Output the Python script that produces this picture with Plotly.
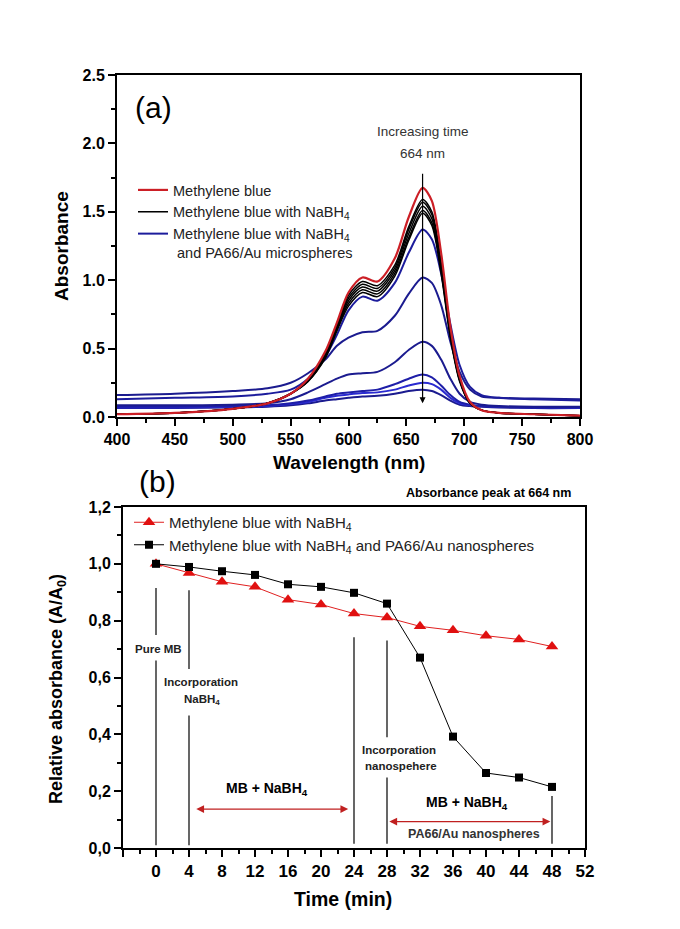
import plotly.graph_objects as go

# ---------------- Panel (a) data: UV-vis spectra ----------------
wavelength = [400, 450, 500, 530, 550, 565, 580, 590, 600, 612, 625, 640, 652, 664,
              672, 680, 688, 696, 705, 715, 730, 760, 800]

mb_pure = [0.02, 0.03, 0.06, 0.10, 0.17, 0.28, 0.48, 0.69, 0.91, 1.02, 0.99, 1.16, 1.46, 1.675,
           1.58, 1.20, 0.66, 0.30, 0.11, 0.05, 0.03, 0.02, 0.01]

mb_nabh4_1 = [0.02, 0.03, 0.06, 0.10, 0.17, 0.27, 0.47, 0.67, 0.89, 0.99, 0.96, 1.11, 1.39, 1.59,
              1.50, 1.13, 0.62, 0.28, 0.10, 0.05, 0.03, 0.02, 0.01]
mb_nabh4_2 = [0.02, 0.03, 0.06, 0.10, 0.17, 0.27, 0.46, 0.66, 0.87, 0.97, 0.94, 1.09, 1.37, 1.57,
              1.48, 1.11, 0.61, 0.28, 0.10, 0.05, 0.03, 0.02, 0.01]
mb_nabh4_3 = [0.02, 0.03, 0.06, 0.10, 0.17, 0.27, 0.45, 0.65, 0.85, 0.95, 0.92, 1.07, 1.34, 1.54,
              1.45, 1.09, 0.60, 0.27, 0.10, 0.05, 0.03, 0.02, 0.01]
mb_nabh4_4 = [0.02, 0.03, 0.06, 0.10, 0.17, 0.26, 0.44, 0.64, 0.83, 0.93, 0.90, 1.05, 1.31, 1.51,
              1.42, 1.07, 0.59, 0.27, 0.10, 0.05, 0.03, 0.02, 0.01]
mb_nabh4_5 = [0.02, 0.03, 0.06, 0.10, 0.17, 0.26, 0.43, 0.63, 0.81, 0.91, 0.88, 1.03, 1.29, 1.49,
              1.40, 1.05, 0.58, 0.26, 0.10, 0.05, 0.03, 0.02, 0.01]

mb_au_1 = [0.13, 0.14, 0.15, 0.17, 0.20, 0.28, 0.44, 0.60, 0.78, 0.88, 0.85, 0.98, 1.20, 1.37,
           1.30, 1.05, 0.68, 0.38, 0.22, 0.16, 0.14, 0.13, 0.12]
mb_au_2 = [0.16, 0.17, 0.19, 0.21, 0.25, 0.32, 0.42, 0.52, 0.58, 0.62, 0.63, 0.74, 0.90, 1.02,
           0.98, 0.82, 0.55, 0.33, 0.20, 0.15, 0.14, 0.135, 0.13]
mb_au_3 = [0.085, 0.085, 0.09, 0.10, 0.13, 0.18, 0.24, 0.28, 0.31, 0.32, 0.33, 0.40, 0.49, 0.55,
           0.52, 0.42, 0.28, 0.17, 0.11, 0.09, 0.08, 0.075, 0.075]
mb_au_4 = [0.075, 0.075, 0.08, 0.085, 0.10, 0.12, 0.15, 0.17, 0.18, 0.19, 0.20, 0.24, 0.28, 0.31,
           0.29, 0.23, 0.16, 0.11, 0.09, 0.08, 0.075, 0.07, 0.07]
mb_au_5 = [0.07, 0.07, 0.075, 0.08, 0.095, 0.11, 0.14, 0.155, 0.165, 0.175, 0.18, 0.20, 0.23, 0.25,
           0.24, 0.20, 0.14, 0.10, 0.085, 0.08, 0.075, 0.07, 0.065]
mb_au_6 = [0.065, 0.065, 0.07, 0.075, 0.085, 0.10, 0.12, 0.13, 0.14, 0.15, 0.155, 0.17, 0.19, 0.20,
           0.19, 0.16, 0.12, 0.09, 0.08, 0.075, 0.07, 0.065, 0.065]

# ---------------- Panel (b) data: relative absorbance ----------------
time_min = [0, 4, 8, 12, 16, 20, 24, 28, 32, 36, 40, 44, 48]
rel_nabh4 = [1.00, 0.968, 0.937, 0.919, 0.874, 0.857, 0.825, 0.811, 0.780, 0.766, 0.747, 0.734, 0.709]
rel_nabh4_au = [1.00, 0.989, 0.974, 0.961, 0.928, 0.919, 0.898, 0.860, 0.670, 0.392, 0.264, 0.248, 0.215]

# tick labels
a_xticks = [400, 450, 500, 550, 600, 650, 700, 750, 800]
a_yticks = [0.0, 0.5, 1.0, 1.5, 2.0, 2.5]
a_yticklabels = ["0.0", "0.5", "1.0", "1.5", "2.0", "2.5"]
b_xticks = [-4, 0, 4, 8, 12, 16, 20, 24, 28, 32, 36, 40, 44, 48, 52]
b_xticklabels = ["", "0", "4", "8", "12", "16", "20", "24", "28", "32", "36", "40", "44", "48", "52"]
b_yticks = [0.0, 0.2, 0.4, 0.6, 0.8, 1.0, 1.2]
b_yticklabels = ["0,0", "0,2", "0,4", "0,6", "0,8", "1,0", "1,2"]

W, H = 680, 929
OFF = 8  # page body margin offset
FONT = "Arial, Liberation Sans, sans-serif"
RED = "#cc1f26"
NAVY = "#1b1b8f"


def px(x):
    return (x - OFF) / W


def py(y):
    return 1 - (y - OFF) / H


fig = go.Figure()

# ---- panel (a) curves ----
blue_sets = [mb_au_6, mb_au_5, mb_au_4, mb_au_3, mb_au_2, mb_au_1]
blue_cols = [NAVY, "#2a2ad0", "#1e1ea8", NAVY, NAVY, "#1c1c9c"]
for i, (vals, c) in enumerate(zip(blue_sets, blue_cols)):
    fig.add_trace(go.Scatter(
        x=wavelength, y=vals, mode="lines", line=dict(color=c, width=2, shape="spline", smoothing=0.8),
        name="Methylene blue with NaBH<sub>4</sub><br> and PA66/Au microspheres",
        showlegend=(i == len(blue_sets) - 1), legend="legend", legendrank=3,
        xaxis="x", yaxis="y"))

for i, vals in enumerate([mb_nabh4_5, mb_nabh4_4, mb_nabh4_3, mb_nabh4_2, mb_nabh4_1]):
    fig.add_trace(go.Scatter(
        x=wavelength, y=vals, mode="lines", line=dict(color="black", width=1.5, shape="spline", smoothing=0.8),
        name="Methylene blue with NaBH<sub>4</sub>",
        showlegend=(i == 4), legend="legend", legendrank=2,
        xaxis="x", yaxis="y"))

fig.add_trace(go.Scatter(
    x=wavelength, y=mb_pure, mode="lines", line=dict(color=RED, width=2.2, shape="spline", smoothing=0.8),
    name="Methylene blue", legend="legend", legendrank=1, xaxis="x", yaxis="y"))

# ---- panel (b) curves ----
fig.add_trace(go.Scatter(
    x=time_min, y=rel_nabh4, mode="lines+markers",
    line=dict(color="#e02020", width=1),
    marker=dict(symbol="triangle-up", size=11, color="#e01010"),
    name="Methylene blue with NaBH<sub>4</sub>", legend="legend2", legendrank=1,
    xaxis="x2", yaxis="y2"))
fig.add_trace(go.Scatter(
    x=time_min, y=rel_nabh4_au, mode="lines+markers",
    line=dict(color="black", width=1),
    marker=dict(symbol="square", size=8, color="black"),
    name="Methylene blue with NaBH<sub>4</sub> and PA66/Au nanospheres", legend="legend2", legendrank=2,
    xaxis="x2", yaxis="y2"))

axis_common = dict(showline=True, linecolor="black", linewidth=2, mirror=True, automargin=False,
                   showgrid=False, zeroline=False, ticks="outside", tickcolor="black",
                   tickwidth=1.5, ticklen=7)

fig.update_layout(
    width=W, height=H, margin=dict(l=0, r=0, t=0, b=0, autoexpand=False),
    paper_bgcolor="white", plot_bgcolor="white",
    font=dict(family=FONT, color="black"),
    xaxis=dict(domain=[px(117), px(580)], range=[400, 800], anchor="y",
               tickvals=a_xticks, tickfont=dict(size=16, weight="bold"),
               minor=dict(ticks="outside", ticklen=4, tickwidth=1.5, tickcolor="black", dtick=25, tick0=400),
               **axis_common),
    yaxis=dict(domain=[py(417), py(75)], range=[0, 2.5], anchor="x",
               tickvals=a_yticks, ticktext=a_yticklabels, tickfont=dict(size=16, weight="bold"),
               minor=dict(ticks="outside", ticklen=4, tickwidth=1.5, tickcolor="black", dtick=0.25, tick0=0),
               **axis_common),
    xaxis2=dict(domain=[px(123), px(585)], range=[-4, 52], anchor="y2",
                tickvals=b_xticks, ticktext=b_xticklabels, tickfont=dict(size=17, weight="bold"),
                minor=dict(ticks="outside", ticklen=4, tickwidth=1.5, tickcolor="black", dtick=2, tick0=0),
                **axis_common),
    yaxis2=dict(domain=[py(848), py(507)], range=[0, 1.2], anchor="x2",
                tickvals=b_yticks, ticktext=b_yticklabels, tickfont=dict(size=16, weight="bold"),
                minor=dict(ticks="outside", ticklen=4, tickwidth=1.5, tickcolor="black", dtick=0.1, tick0=0),
                **axis_common),
    legend=dict(x=px(133), y=py(174), xanchor="left", yanchor="top", bgcolor="rgba(0,0,0,0)",
                font=dict(size=14.5, color="#222"), valign="top", tracegroupgap=0, itemwidth=30,
                traceorder="normal"),
    legend2=dict(x=px(129), y=py(506), xanchor="left", yanchor="top", bgcolor="rgba(0,0,0,0)",
                 font=dict(size=15, color="#222"), tracegroupgap=0, itemwidth=30,
                 traceorder="normal"),
)

ann = []
# axis titles
ann.append(dict(text="<b>Wavelength (nm)</b>", x=px(349), y=py(462), xref="paper", yref="paper",
                showarrow=False, font=dict(size=19), xanchor="center", yanchor="middle"))
ann.append(dict(text="<b>Absorbance</b>", x=px(62), y=py(246), xref="paper", yref="paper",
                showarrow=False, font=dict(size=19), textangle=-90, xanchor="center", yanchor="middle"))
ann.append(dict(text="<b>Time (min)</b>", x=px(343), y=py(899), xref="paper", yref="paper",
                showarrow=False, font=dict(size=19.5), xanchor="center", yanchor="middle"))
ann.append(dict(text="<b>Relative absorbance (A/A<sub>0</sub>)</b>", x=px(57), y=py(689), xref="paper",
                yref="paper", showarrow=False, font=dict(size=18), textangle=-90,
                xanchor="center", yanchor="middle"))
# panel labels
ann.append(dict(text="(a)", x=px(153), y=py(107), xref="paper", yref="paper", showarrow=False,
                font=dict(size=30), xanchor="center", yanchor="middle"))
ann.append(dict(text="(b)", x=px(157), y=py(481), xref="paper", yref="paper", showarrow=False,
                font=dict(size=30), xanchor="center", yanchor="middle"))
ann.append(dict(text="<b>Absorbance peak at 664 nm</b>", x=px(573), y=py(493), xref="paper", yref="paper",
                showarrow=False, font=dict(size=12.5), xanchor="right", yanchor="middle"))
# panel (a) arrow + labels
ann.append(dict(x=664, y=0.10, ax=664, ay=1.79, xref="x", yref="y", axref="x", ayref="y",
                showarrow=True, arrowhead=2, arrowsize=1, arrowwidth=1.2, arrowcolor="black", text=""))
ann.append(dict(text="Increasing time", x=664, y=py(131), xref="x", yref="paper", showarrow=False,
                font=dict(size=13.5, color="#333"), xanchor="center", yanchor="middle"))
ann.append(dict(text="664 nm", x=664, y=py(154), xref="x", yref="paper", showarrow=False,
                font=dict(size=13.5, color="#333"), xanchor="center", yanchor="middle"))

# panel (b) labels
small = dict(xref="x2", yref="y2", showarrow=False, xanchor="center", yanchor="middle")
ann.append(dict(text="<b>Pure MB</b>", x=0.3, y=0.70, font=dict(size=11.5, color="#222"), **small))
ann.append(dict(text="<b>Incorporation</b>", x=5.4, y=0.583, font=dict(size=11.5, color="#222"), **small))
ann.append(dict(text="<b>NaBH<sub>4</sub></b>", x=5.6, y=0.52, font=dict(size=11.5, color="#222"), **small))
ann.append(dict(text="<b>Incorporation</b>", x=29.5, y=0.346, font=dict(size=11.5, color="#222"), **small))
ann.append(dict(text="<b>nanospehere</b>", x=29.7, y=0.287, font=dict(size=11.5, color="#222"), **small))
ann.append(dict(text="<b>MB + NaBH<sub>4</sub></b>", x=13.4, y=0.207, font=dict(size=14), **small))
ann.append(dict(text="<b>MB + NaBH<sub>4</sub></b>", x=37.7, y=0.158, font=dict(size=14), **small))
ann.append(dict(text="<b>PA66/Au nanospheres</b>", x=38.5, y=0.048, font=dict(size=12.5, color="#333"), **small))
# double-headed red arrows
ann.append(dict(x=23.3, y=0.137, ax=4.7, ay=0.137, xref="x2", yref="y2", axref="x2", ayref="y2",
                showarrow=True, arrowside="end+start", arrowhead=2, arrowsize=1.3, arrowwidth=1.2,
                arrowcolor="#c02020", text=""))
ann.append(dict(x=47.8, y=0.093, ax=28.1, ay=0.093, xref="x2", yref="y2", axref="x2", ayref="y2",
                showarrow=True, arrowside="end+start", arrowhead=2, arrowsize=1.3, arrowwidth=1.2,
                arrowcolor="#c02020", text=""))
fig.update_layout(annotations=ann)

# marker lines in panel (b)
segments = [(0, 0.915, 0.75), (0, 0.66, 0.01), (4, 0.907, 0.63), (4, 0.466, 0.01),
            (24, 0.742, 0.015), (28, 0.73, 0.39), (28, 0.248, 0.015), (48, 0.183, 0.015)]
for xs, y0, y1 in segments:
    fig.add_shape(type="line", x0=xs, x1=xs, y0=y0, y1=y1, xref="x2", yref="y2",
                  line=dict(color="black", width=1.2))

fig.write_html("out.html")
